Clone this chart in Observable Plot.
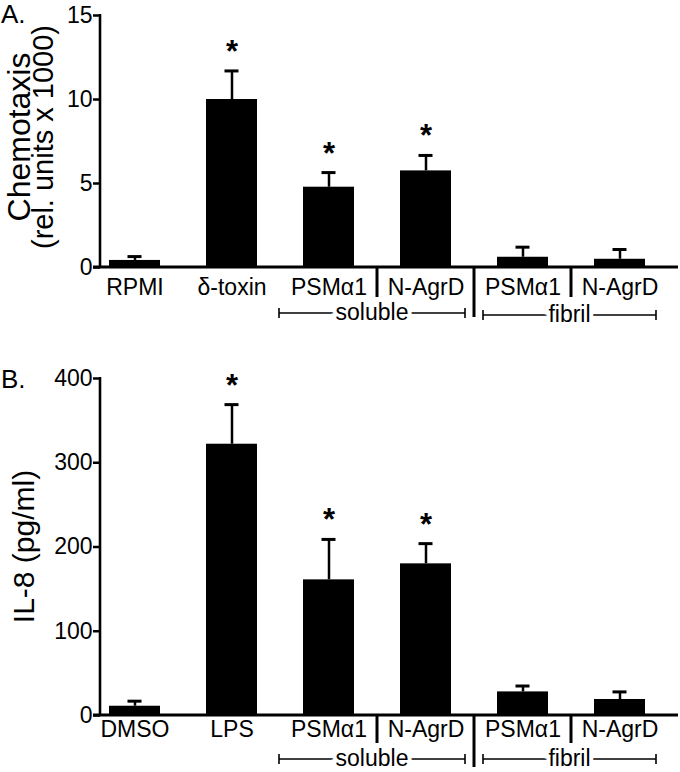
<!DOCTYPE html>
<html><head><meta charset="utf-8">
<script src="https://cdn.jsdelivr.net/npm/d3@7"></script>
<script src="https://cdn.jsdelivr.net/npm/@observablehq/plot@0.6"></script>
<style>
body{margin:0;background:#fff;font-family:"Liberation Sans",Arial,Helvetica,sans-serif;}
.panel{position:relative;width:680px;}
.plabel{position:absolute;left:1px;font-size:26px;color:#000;line-height:1;}
svg{display:block;}
</style></head><body>
<div id="panelA" class="panel"><div class="plabel" style="top:1px">A.</div></div>
<div id="panelB" class="panel"><div class="plabel" style="top:26px">B.</div></div>
<script>
// ---- Data ----
const idsA = ["RPMI", "dtoxin", "solPSM", "solAgrD", "fibPSM", "fibAgrD"];
const labelsA = ["RPMI", "δ-toxin", "PSMα1", "N-AgrD", "PSMα1", "N-AgrD"];
const meansA = [0.42, 10.0, 4.78, 5.75, 0.61, 0.49];
const errsA = [0.23, 1.7, 0.87, 0.92, 0.6, 0.58];
const sigA = [false, true, true, true, false, false];
const yTicksA = [0, 5, 10, 15];
const titleA = ["Chemotaxis", "(rel. units x 1000)"];

const idsB = ["DMSO", "LPS", "solPSM", "solAgrD", "fibPSM", "fibAgrD"];
const labelsB = ["DMSO", "LPS", "PSMα1", "N-AgrD", "PSMα1", "N-AgrD"];
const meansB = [11, 322, 161, 180, 28, 19];
const errsB = [6, 47, 48, 24, 7, 9];
const sigB = [false, true, true, true, false, false];
const yTicksB = [0, 100, 200, 300, 400];
const titleB = ["IL-8 (pg/ml)"];

const groupNames = ["soluble", "fibril"];
const groupMembers = [[2, 3], [4, 5]];
const sigMark = "*";

const FONT = '"Liberation Sans", Arial, Helvetica, sans-serif';
const TICK_FS = 23;

function decorations(cfg) {
  return (index, scales, values, dim) => {
    const x = scales.x;
    const ids = cfg.ids;
    const step = x(ids[1]) - x(ids[0]);
    const bw = typeof x.bandwidth === "function" ? x.bandwidth() : step * (1 - 0.47);
    const top = dim.marginTop;
    const y0 = dim.height - dim.marginBottom;
    const left = dim.marginLeft;
    const right = dim.width - dim.marginRight;
    const g = d3.create("svg:g").attr("fill", "none").attr("stroke", "black");
    // y axis line
    g.append("line").attr("x1", left).attr("x2", left).attr("y1", top - 1).attr("y2", y0)
      .attr("stroke-width", 2.6);
    // baseline
    g.append("line").attr("x1", left - 7).attr("x2", right).attr("y1", y0).attr("y2", y0)
      .attr("stroke-width", 3);
    // separators between labels
    const mid = (i) => (x(ids[i]) + bw + x(ids[i + 1])) / 2;
    [[2, cfg.sepLen], [3, cfg.bigSepLen], [4, cfg.sepLen]].forEach(([i, len]) => {
      g.append("line").attr("x1", mid(i)).attr("x2", mid(i)).attr("y1", y0).attr("y2", y0 + len)
        .attr("stroke-width", 3);
    });
    // group brackets
    const spans = [
      [x(ids[groupMembers[0][0]]) - 24, mid(3) - 9],
      [mid(3) + 9, x(ids[groupMembers[1][1]]) + bw + 11]
    ];
    groupMembers.forEach((m, gi) => {
      const [xa, xb] = spans[gi];
      const yb = y0 + cfg.bracketOff + (gi === 1 ? cfg.fibrilShift : 0);
      g.append("line").attr("x1", xa).attr("x2", xb).attr("y1", yb).attr("y2", yb).attr("stroke-width", 1.6);
      g.append("line").attr("x1", xa).attr("x2", xa).attr("y1", yb - 5).attr("y2", yb + 5).attr("stroke-width", 1.6);
      g.append("line").attr("x1", xb).attr("x2", xb).attr("y1", yb - 5).attr("y2", yb + 5).attr("stroke-width", 1.6);
      g.append("text").attr("x", (xa + xb) / 2).attr("y", yb).attr("dy", "0.3em")
        .attr("text-anchor", "middle").attr("font-size", TICK_FS).attr("font-family", FONT)
        .attr("fill", "black").attr("stroke", "white").attr("stroke-width", 8)
        .attr("paint-order", "stroke").text(groupNames[gi]);
    });
    // rotated y-axis title
    const cy = (top + y0) / 2 + cfg.titleShift;
    cfg.title.forEach((t, i) => {
      g.append("text").attr("transform", `translate(${cfg.titleX[i]},${cy}) rotate(-90)`)
        .attr("text-anchor", "middle").attr("font-size", cfg.titleSize[i]).attr("font-family", FONT)
        .attr("fill", "black").attr("stroke", "none").text(t);
    });
    return g.node();
  };
}

function panel(cfg) {
  const rows = cfg.ids.map((id, i) => ({id, mean: cfg.means[i], err: cfg.errs[i], sig: cfg.sig[i]}));
  return Plot.plot({
    width: 680,
    height: cfg.height,
    marginLeft: 100,
    marginRight: 2,
    marginTop: cfg.marginTop,
    marginBottom: cfg.marginBottom,
    style: {fontFamily: FONT, fontSize: TICK_FS + "px", color: "black", background: "white"},
    x: {type: "band", domain: cfg.ids, range: [108, 647], paddingInner: 0.47, paddingOuter: 0},
    y: {domain: [0, cfg.yMax]},
    marks: [
      Plot.barY(rows, {x: "id", y: "mean", fill: "black"}),
      Plot.ruleX(rows, {x: "id", y1: "mean", y2: (d) => d.mean + d.err, stroke: "black", strokeWidth: 2.5}),
      Plot.tickY(rows, {x: "id", y: (d) => d.mean + d.err, stroke: "black", strokeWidth: 3, insetLeft: 18.5, insetRight: 18.5}),
      Plot.text(rows.filter((d) => d.sig), {x: "id", y: (d) => d.mean + d.err, text: () => sigMark,
        fontSize: 31, fontWeight: "bold", dy: -19, fill: "black"}),
      Plot.axisY({ticks: cfg.yTicks, tickSize: 7, tickPadding: 1, strokeWidth: 2.5, label: null,
        fontSize: TICK_FS, tickFormat: (d) => String(d)}),
      Plot.axisX({tickSize: 0, tickPadding: cfg.tickPad, label: null, fontSize: TICK_FS,
        tickFormat: (id) => cfg.labels[cfg.ids.indexOf(id)]}),
      decorations(cfg)
    ]
  });
}

document.getElementById("panelA").appendChild(panel({
  ids: idsA, labels: labelsA, means: meansA, errs: errsA, sig: sigA, yTicks: yTicksA, yMax: 15,
  height: 340, marginTop: 15, marginBottom: 73, tickPad: 11,
  sepLen: 30, bigSepLen: 50, bracketOff: 46, fibrilShift: 2,
  title: titleA, titleX: [30, 53], titleSize: [32, 29], titleShift: -4
}));
document.getElementById("panelB").appendChild(panel({
  ids: idsB, labels: labelsB, means: meansB, errs: errsB, sig: sigB, yTicks: yTicksB, yMax: 400,
  height: 432, marginTop: 38, marginBottom: 57, tickPad: 5,
  sepLen: 28, bigSepLen: 52, bracketOff: 44, fibrilShift: 0,
  title: titleB, titleX: [34], titleSize: [30], titleShift: 0
}));
</script>
</body></html>
